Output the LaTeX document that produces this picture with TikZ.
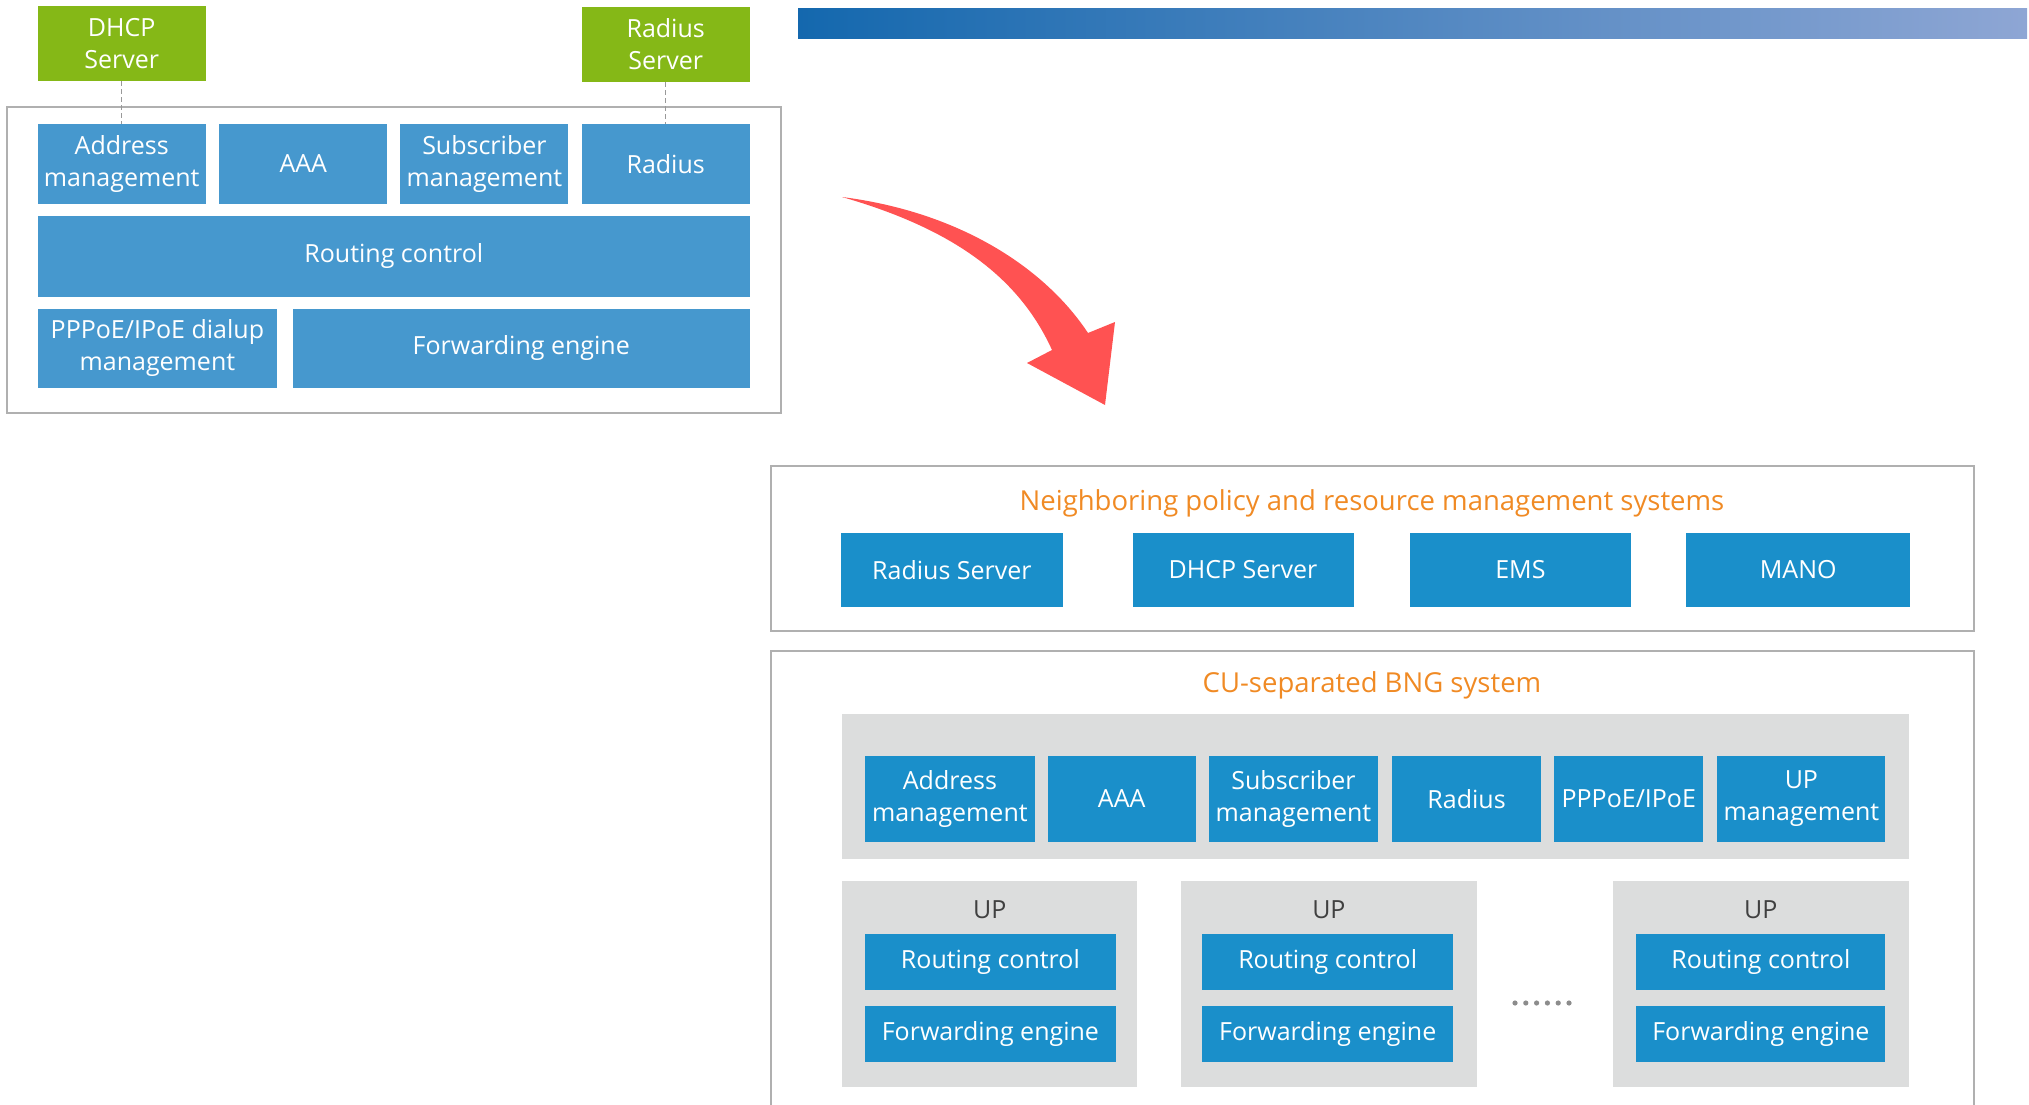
\documentclass[tikz,border=0pt]{standalone}
\usepackage{fontspec}
\setmainfont{Open Sans}
\usepackage{tikz}
\usetikzlibrary{positioning}

\definecolor{srvGreen}{HTML}{85B817}
\definecolor{oldBlue}{HTML}{4698CE}
\definecolor{newBlue}{HTML}{1A8FCA}
\definecolor{panelGray}{HTML}{DCDDDD}
\definecolor{frameGray}{HTML}{B0B0B0}
\definecolor{titleOrange}{HTML}{F08A24}
\definecolor{arrowRed}{HTML}{FF5252}
\definecolor{barLeft}{HTML}{1468AE}
\definecolor{barRight}{HTML}{8EA6D4}

\begin{document}
\begin{tikzpicture}[x=1pt, y=-1pt,
  box/.style={fill=#1, text=white, inner sep=0pt, align=center, font=\fontsize{25}{32}\selectfont},
  title/.style={text=titleOrange, inner sep=0pt, font=\fontsize{27.5}{32}\selectfont},
  frame/.style={draw=frameGray, line width=2pt}]
  \useasboundingbox (0,0) rectangle (2029,1105);

  % Old BNG (left)
  \draw[frame] (7,107) rectangle (781,413);
  \node[box=srvGreen, minimum width=168pt, minimum height=75pt] (dhcpSrv) at (121.7,43.5) {DHCP\\Server};
  \node[box=srvGreen, minimum width=168pt, minimum height=75pt] (radSrv) at (665.7,44.5) {Radius\\Server};
  \node[box=oldBlue, minimum width=168pt, minimum height=80pt] (oldAddr) at (121.7,164) {Address\\management};
  \node[box=oldBlue, minimum width=168pt, minimum height=80pt] (oldAaa) at (303.3,164) {AAA};
  \node[box=oldBlue, minimum width=168pt, minimum height=80pt] (oldSub) at (484.4,164) {Subscriber\\management};
  \node[box=oldBlue, minimum width=168pt, minimum height=80pt] (oldRad) at (665.7,164) {Radius};
  \node[box=oldBlue, minimum width=712pt, minimum height=81pt] (oldRoute) at (393.8,256.5) {Routing control};
  \node[box=oldBlue, minimum width=239pt, minimum height=79pt] (oldDial) at (157.4,348.5) {PPPoE/IPoE dialup\\management};
  \node[box=oldBlue, minimum width=457pt, minimum height=79pt] (oldFwd) at (521.2,348.5) {Forwarding engine};
  \draw[gray!80, line width=1.5pt, dash pattern=on 5pt off 3pt] (dhcpSrv.south) -- (oldAddr.north);
  \draw[gray!80, line width=1.5pt, dash pattern=on 5pt off 3pt] (radSrv.south) -- (oldRad.north);

  % Top bar and red arrow
  \shade[left color=barLeft, right color=barRight] (798,9) rectangle (2027,39);
  \fill[arrowRed] (842,197) .. controls (960,212) and (1045,268) .. (1088,333)
    -- (1115,322) -- (1105,405) -- (1027,363) -- (1052,350)
    .. controls (1018,275) and (950,228) .. (842,197) -- cycle;

  % Neighboring systems
  \draw[frame] (771,466) rectangle (1974,631);
  \node[title] (nbTitle) at (1372,503) {Neighboring policy and resource management systems};
  \node[box=newBlue, minimum width=222pt, minimum height=74pt] (nbRad) at (951.9,570) {Radius Server};
  \node[box=newBlue, minimum width=221pt, minimum height=74pt] (nbDhcp) at (1243,570) {DHCP Server};
  \node[box=newBlue, minimum width=221pt, minimum height=74pt] (nbEms) at (1520.4,570) {EMS};
  \node[box=newBlue, minimum width=224pt, minimum height=74pt] (nbMano) at (1798.2,570) {MANO};

  % CU-separated BNG
  \draw[frame] (771,1110) -- (771,651) -- (1974,651) -- (1974,1110);
  \node[title] (bngTitle) at (1372,685) {CU-separated BNG system};
  \fill[panelGray] (842,714) rectangle (1909,859);
  \node[box=newBlue, minimum width=170pt, minimum height=86pt] (cpAddr) at (949.9,799) {Address\\management};
  \node[box=newBlue, minimum width=148pt, minimum height=86pt] (cpAaa) at (1121.7,799) {AAA};
  \node[box=newBlue, minimum width=169pt, minimum height=86pt] (cpSub) at (1293.5,799) {Subscriber\\management};
  \node[box=newBlue, minimum width=149pt, minimum height=86pt] (cpRad) at (1466.6,799) {Radius};
  \node[box=newBlue, minimum width=149pt, minimum height=86pt] (cpDial) at (1628.8,799) {PPPoE/IPoE};
  \node[box=newBlue, minimum width=168pt, minimum height=86pt] (cpUpm) at (1801.4,799) {UP\\management};

  % UP instances
  \fill[panelGray] (842,881) rectangle (1137,1087);
  \fill[panelGray] (1181,881) rectangle (1477,1087);
  \fill[panelGray] (1613,881) rectangle (1909,1087);
  \node[text=black!75, font=\fontsize{25}{32}\selectfont] (upA) at (989.7,910) {UP};
  \node[text=black!75, font=\fontsize{25}{32}\selectfont] (upB) at (1328.9,910) {UP};
  \node[text=black!75, font=\fontsize{25}{32}\selectfont] (upC) at (1760.8,910) {UP};
  \node[box=newBlue, minimum width=251pt, minimum height=56pt] (upRouteA) at (990.4,962) {Routing control};
  \node[box=newBlue, minimum width=251pt, minimum height=56pt] (upFwdA) at (990.4,1034) {Forwarding engine};
  \node[box=newBlue, minimum width=251pt, minimum height=56pt] (upRouteB) at (1327.7,962) {Routing control};
  \node[box=newBlue, minimum width=251pt, minimum height=56pt] (upFwdB) at (1327.7,1034) {Forwarding engine};
  \node[box=newBlue, minimum width=249pt, minimum height=56pt] (upRouteC) at (1760.9,962) {Routing control};
  \node[box=newBlue, minimum width=249pt, minimum height=56pt] (upFwdC) at (1760.9,1034) {Forwarding engine};
  % dots between UPs
  \foreach \i in {0,...,5}
    \fill[gray!90] (1515+\i*10.8,1003) circle (2.6);
\end{tikzpicture}
\end{document}
